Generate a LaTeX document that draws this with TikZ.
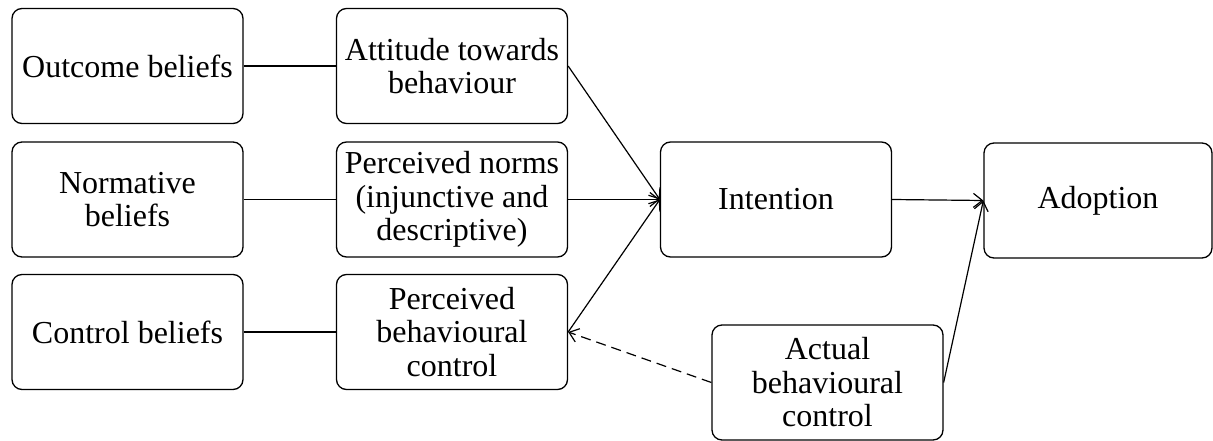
\documentclass[tikz,border=0pt]{standalone}
\usepackage{fontspec}
\setmainfont{Liberation Serif}
\usetikzlibrary{arrows.meta}
\begin{document}
\begin{tikzpicture}[x=1pt,y=-1pt,
  box/.style={draw, line width=1.3pt, rounded corners=10pt, align=center,
    minimum width=231pt, minimum height=115pt, inner sep=0pt,
    font=\fontsize{32}{33.5}\selectfont},
  link/.style={line width=1.2pt},
  arr/.style={link, -{Straight Barb[length=9pt,width=14pt,line width=1.2pt]}},
  darr/.style={arr, dash pattern=on 10pt off 6pt}]
\useasboundingbox (0,0) rectangle (1213,441);
% belief boxes
\node[box] (ob)  at (127.5,66)    {Outcome beliefs};
\node[box] (nb)  at (127.5,199.5) {Normative\\beliefs};
\node[box] (cb)  at (127.5,332)   {Control beliefs};
% constructs
\node[box] (att) at (452,66)      {Attitude towards\\behaviour};
\node[box] (pn)  at (452,199.5)   {Perceived norms\\(injunctive and\\descriptive)};
\node[box] (pbc) at (452,332)     {Perceived\\behavioural\\control};
% outcomes
\node[box] (int) at (776,199.5)   {Intention};
\node[box, minimum width=228pt] (adp) at (1098,200.5) {Adoption};
\node[box] (abc) at (827.5,382.5) {Actual\\behavioural\\control};
% connectors
\draw[link] (ob) -- (att);
\draw[link] (nb) -- (pn);
\draw[link] (cb) -- (pbc);
\draw[arr] (att.east) -- (int.west);
\draw[arr] (pn.east) -- (int.west);
\draw[arr] (pbc.east) -- (int.west);
\draw[arr] (int.east) -- (adp.west);
\draw[arr] (abc.east) -- (adp.west);
\draw[darr] (abc.west) -- (pbc.east);
\end{tikzpicture}
\end{document}
